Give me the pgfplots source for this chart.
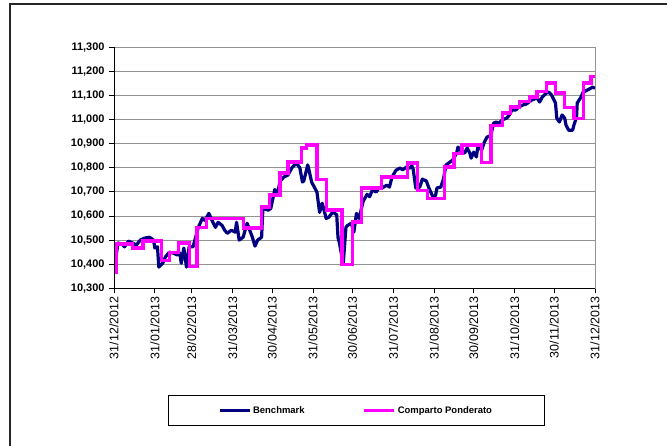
\documentclass[border=0pt]{standalone}
\usepackage{fontspec}
\setmainfont{Liberation Sans}
\usepackage{pgfplots}
\pgfplotsset{compat=1.18}
\definecolor{bench}{RGB}{0,0,128}
\definecolor{comp}{RGB}{255,0,255}
\begin{document}
\begin{tikzpicture}
\path[use as bounding box] (0,0) rectangle (670bp,446bp);
\draw[black!85, line width=1.2bp] (667bp,442bp) -- (10bp,442bp) -- (10bp,0bp);
\begin{axis}[
  at={(114bp,157.7bp)}, anchor=south west,
  scale only axis, width=481bp, height=241bp,
  xmin=0, xmax=365, ymin=10300, ymax=11300,
  xtick={0,31,59,90,120,151,181,212,243,273,304,334,365},
  xticklabels={31/12/2012,31/01/2013,28/02/2013,31/03/2013,30/04/2013,31/05/2013,30/06/2013,31/07/2013,31/08/2013,30/09/2013,31/10/2013,30/11/2013,31/12/2013},
  ytick={10300,10400,10500,10600,10700,10800,10900,11000,11100,11200,11300},
  scaled y ticks=false,
  yticklabel style={/pgf/number format/fixed, /pgf/number format/precision=0,
    /pgf/number format/1000 sep={,}, /pgf/number format/assume math mode=true,
    font=\bfseries\fontsize{11}{13}\selectfont, xshift=-1bp},
  xticklabel style={font=\fontsize{12.5}{14}\selectfont, rotate=90, anchor=east},
  tick pos=left, tick align=outside, major tick length=5bp,
  tick style={black, line width=0.8bp},
  ymajorgrids, grid style={gray!85, line width=0.9bp},
  axis line style={gray!85, line width=0.9bp},
  legend columns=2,
  legend style={at={(0.503,-0.507)}, anchor=center, draw=black, line width=0.8bp,
    font=\bfseries\fontsize{9.5}{11}\selectfont, inner xsep=50bp, inner ysep=8.5bp,
    /tikz/every even column/.append style={column sep=56bp}},
  legend image code/.code={\draw[#1] (0bp,0bp) -- (30bp,0bp);},
]
\addplot[bench, line width=3.2bp, line join=round] coordinates {
(0,10370) (3,10488) (6,10484) (8,10472) (11,10496) (14,10488) (17,10480) (20,10500)
(23,10508) (27,10512) (30,10500) (31,10467) (33,10472) (34,10388) (37,10404) (39,10430)
(42,10450) (45,10446) (48,10438) (50,10446) (51,10404) (53,10467) (55,10388) (57,10472)
(60,10472) (64,10553) (67,10590) (69,10582) (72,10611) (75,10574) (77,10553) (79,10574)
(82,10561) (84,10541) (86,10528) (89,10541) (92,10533) (93,10574) (95,10500) (98,10512)
(101,10570) (103,10541) (105,10512) (107,10475) (109,10500) (112,10512) (113,10632) (117,10624)
(119,10632) (122,10710) (124,10690) (126,10745) (129,10762) (132,10770) (135,10800) (137,10812)
(139,10815) (141,10800) (143,10741) (144,10745) (147,10812) (148,10790) (150,10740) (152,10720)
(154,10699) (156,10615) (158,10653) (161,10590) (163,10595) (166,10616) (169,10605) (170,10510)
(171,10490) (173,10430) (174,10405) (176,10553) (177,10560) (180,10570) (182,10533) (184,10611)
(186,10590) (189,10660) (192,10690) (194,10680) (196,10707) (199,10700) (201,10716) (204,10718)
(207,10728) (209,10720) (211,10762) (214,10790) (217,10799) (219,10792) (222,10803) (224,10798)
(226,10808) (227,10795) (229,10716) (232,10720) (234,10753) (237,10745) (239,10716) (242,10679)
(244,10685) (245,10716) (248,10720) (250,10753) (252,10812) (254,10820) (257,10832) (260,10861)
(261,10886) (264,10865) (266,10861) (268,10882) (270,10861) (271,10840) (273,10865) (275,10845)
(276,10886) (279,10874) (281,10906) (283,10927) (286,10935) (288,10985) (290,10990) (292,10985)
(295,11000) (298,11006) (300,11019) (302,11040) (305,11040) (307,11052) (310,11060) (313,11065)
(315,11073) (317,11081) (321,11090) (323,11073) (325,11094) (328,11110) (330,11114) (332,11102)
(335,11069) (336,11006) (338,10990) (340,11019) (342,11006) (343,10977) (345,10956) (348,10956)
(349,10977) (351,11010) (351.5,11069) (354,11090) (356,11114) (359,11122) (362,11131) (363,11135)
(365,11130)
};
\addlegendentry{Benchmark}
\addplot[comp, line width=3.2bp, const plot, line join=miter] coordinates {
(0,10364) (1.5,10484) (14,10467) (22,10496) (36,10414) (42,10447) (49,10488) (57,10390)
(63,10553) (70,10590) (98,10550) (112,10637) (118,10687) (126,10778) (132,10824) (142,10882)
(146,10895) (154,10753) (161,10625) (173,10400) (181,10575) (188,10716) (203,10762) (223,10820)
(230,10707) (238,10672) (251,10803) (258,10858) (264,10895) (279,10822) (286,10975) (295,11027)
(301,11052) (308,11075) (315,11094) (321,11118) (328,11152) (335,11110) (342,11050) (349,11004)
(356,11152) (362,11180) (365,11180)
};
\addlegendentry{Comparto Ponderato}
\draw[black, line width=0.9bp] (rel axis cs:0,1) -- (rel axis cs:0,0) -- (rel axis cs:1,0);
\end{axis}
\end{tikzpicture}
\end{document}
